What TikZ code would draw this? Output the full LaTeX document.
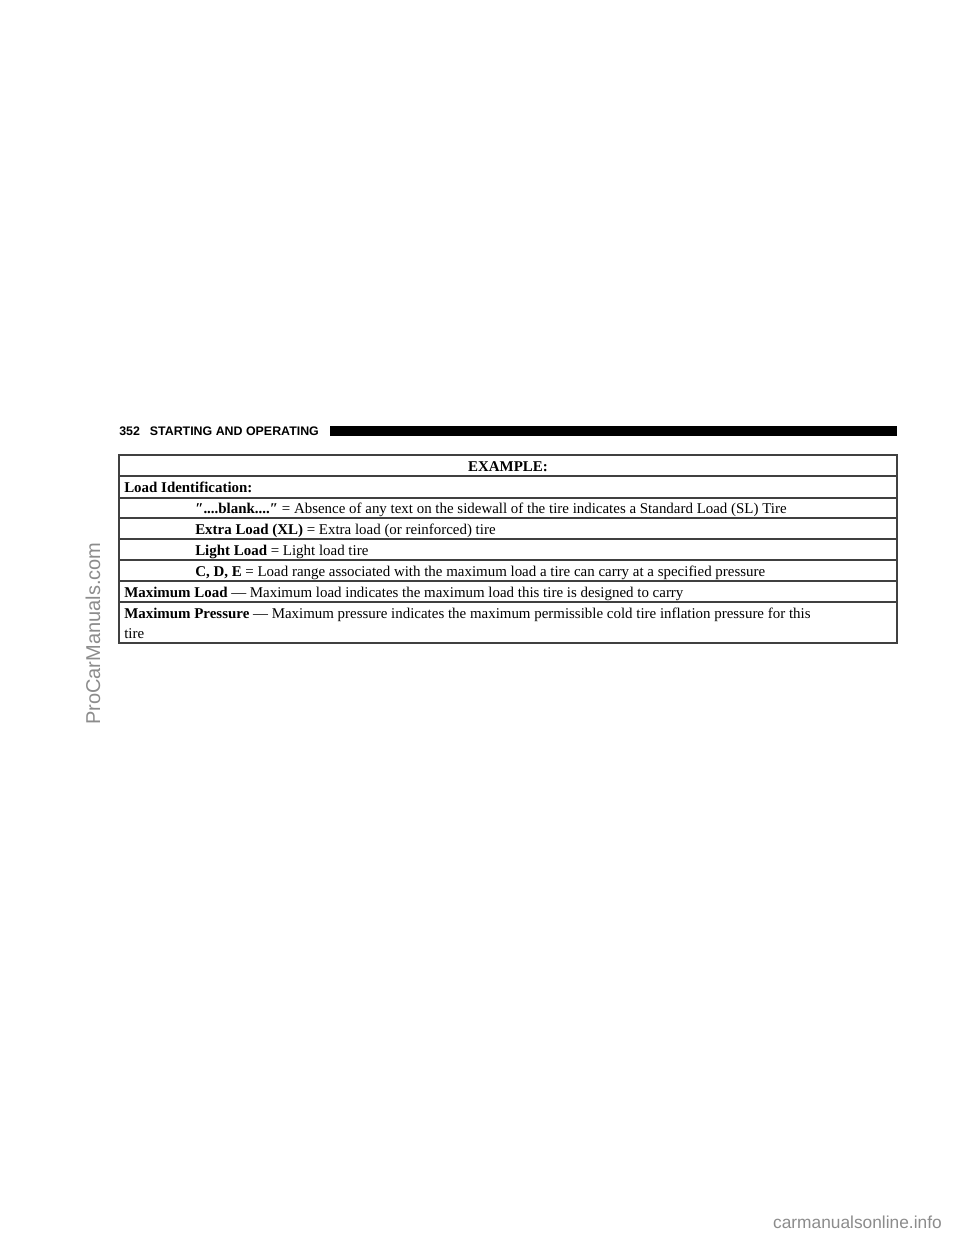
\documentclass[tikz,border=0pt]{standalone}
\usepackage{fontspec}
\setmainfont{Liberation Serif}
\newfontfamily\hdsans{Liberation Sans}
\begin{document}
\begin{tikzpicture}[x=0.75pt,y=-0.75pt,
  cell/.style={anchor=base west,inner sep=0pt,font=\fontsize{11.2pt}{13pt}\selectfont},
  rule/.style={draw=black!75,line width=0.8pt},
  wm/.style={text=black!45,inner sep=0pt,font=\hdsans\fontsize{15pt}{17pt}\selectfont}]
\useasboundingbox[fill=white] (0,0) rectangle (960,1242);
% header
\node[anchor=base west,inner sep=0pt,font=\hdsans\bfseries\fontsize{9.3pt}{11pt}\selectfont] (hd) at (119,435) {352\hspace{0.8em}STARTING AND OPERATING};
\fill (330,426) rectangle (897,436);
% table
\draw[rule] (119,455) rectangle (897,643);
\foreach \yy in {476,498,518,539,560,581,602} \draw[rule] (119,\yy) -- (897,\yy);
\node[cell,anchor=base] (ex) at (508,471) {\textbf{EXAMPLE:}};
\node[cell] (li) at (124,492) {\textbf{Load Identification:}};
\node[cell] (r1) at (195,513) {\textbf{\char"2033....blank....\char"2033} = Absence of any text on the sidewall of the tire indicates a Standard Load (SL) Tire};
\node[cell] (r2) at (195,534) {\textbf{Extra Load (XL)} = Extra load (or reinforced) tire};
\node[cell] (r3) at (195,555) {\textbf{Light Load} = Light load tire};
\node[cell] (r4) at (195,576) {\textbf{C, D, E} = Load range associated with the maximum load a tire can carry at a specified pressure};
\node[cell] (r5) at (124,597) {\textbf{Maximum Load} — Maximum load indicates the maximum load this tire is designed to carry};
\node[cell] (r6) at (124,618) {\textbf{Maximum Pressure} — Maximum pressure indicates the maximum permissible cold tire inflation pressure for this};
\node[cell] (r7) at (124,638) {tire};
% watermarks
\node[wm,rotate=90,anchor=base west] (w1) at (100,725) {ProCarManuals.com};
\node[wm,anchor=base east,font=\hdsans\fontsize{13pt}{15pt}\selectfont] (w2) at (942,1228) {carmanualsonline.info};
\end{tikzpicture}
\end{document}
